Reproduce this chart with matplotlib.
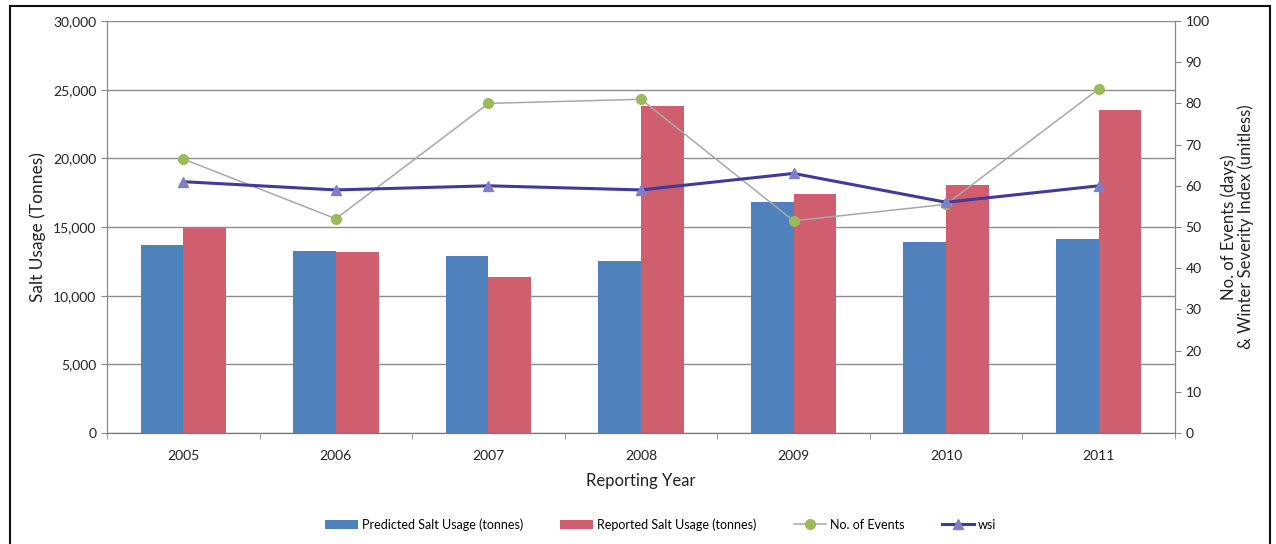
import matplotlib
matplotlib.use('Agg')
import matplotlib.pyplot as plt
import numpy as np
from matplotlib.patches import Rectangle

plt.rcParams['font.family'] = ['Lato', 'DejaVu Sans']

# data
years = ['2005', '2006', '2007', '2008', '2009', '2010', '2011']
predicted = [13700, 13250, 12900, 12550, 16850, 13900, 14150]
reported = [14900, 13150, 11350, 23800, 17400, 18050, 23550]
events = [66.5, 52, 80, 81, 51.5, 55.5, 83.5]
wsi = [61, 59, 60, 59, 63, 56, 60]

blue = '#4F81BD'
red = '#CF5F6E'
green = '#9BBB59'
grey_line = '#A8A8A8'
wsi_line = '#3F3A9C'
wsi_mark = '#7F7FC8'

fig = plt.figure(figsize=(12.76, 5.44), dpi=100)
ax = fig.add_axes([107 / 1276, 1 - 433 / 544, (1175 - 107) / 1276, (433 - 21) / 544])
ax2 = ax.twinx()

x = np.arange(len(years))
w = 0.28
ax.bar(x - w / 2, predicted, w, color=blue, label='Predicted Salt Usage (tonnes)', zorder=2)
ax.bar(x + w / 2, reported, w, color=red, label='Reported Salt Usage (tonnes)', zorder=2)

ax2.plot(x, events, '-o', color=grey_line, lw=1.1, markersize=7,
         markerfacecolor=green, markeredgecolor=green, label='No. of Events', zorder=3)
ax2.plot(x, wsi, '-^', color=wsi_line, lw=2.2, markersize=7,
         markerfacecolor=wsi_mark, markeredgecolor=wsi_mark, label='wsi', zorder=4)

ax.set_xlim(-0.5, len(years) - 0.5)
ax.set_ylim(0, 30000)
ax2.set_ylim(0, 100)
ax.set_yticks(np.arange(0, 30001, 5000))
ax.set_yticklabels(['{:,}'.format(v) for v in range(0, 30001, 5000)])
ax2.set_yticks(np.arange(0, 101, 10))
ax.set_xticks(x)
ax.set_xticklabels(years)
ax.set_xticks(np.arange(-0.5, len(years), 1), minor=True)

ax.yaxis.grid(True, color='#8C8C8C', lw=1)
ax.set_axisbelow(True)
ax.tick_params(axis='x', which='major', length=0, pad=12, labelsize=10, colors='#222222')
ax.tick_params(axis='x', which='minor', length=4, color='#888888')
ax.tick_params(axis='y', length=4, color='#888888', labelsize=10, labelcolor='#222222')
ax2.tick_params(axis='y', length=4, color='#888888', labelsize=10, labelcolor='#222222')

for a in (ax, ax2):
    a.spines['top'].set_visible(False)
    a.spines['left'].set_color('#888888')
    a.spines['right'].set_color('#888888')
    a.spines['bottom'].set_color('#777777')

ax.set_ylabel('Salt Usage (Tonnes)', fontsize=12.5, color='#222222', labelpad=5)
ax2.set_ylabel('No. of Events (days)\n& Winter Severity Index (unitless)', fontsize=12,
               color='#222222', labelpad=8, linespacing=1.05)
ax.set_xlabel('Reporting Year', fontsize=12, color='#222222', labelpad=8)

h1, l1 = ax.get_legend_handles_labels()
h2, l2 = ax2.get_legend_handles_labels()
fig.legend(h1 + h2, l1 + l2, loc='center', bbox_to_anchor=(0.518, 0.036), ncol=4,
           frameon=False, fontsize=9, handlelength=2.6, columnspacing=3.0, handletextpad=0.3)

fig.patches.append(Rectangle((10 / 1276, -0.01), 1260 / 1276, 1 - 6 / 544 + 0.01,
                             transform=fig.transFigure, fill=False, edgecolor='#111111', lw=1.5))

fig.savefig('out.png', dpi=100)
